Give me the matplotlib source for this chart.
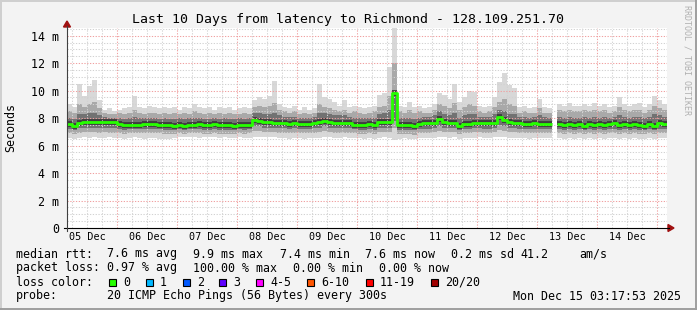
import numpy as np
import matplotlib.pyplot as plt
from matplotlib.patches import Rectangle, Polygon
from matplotlib.lines import Line2D

# ---------------------------------------------------------------------------
# Data (2 hour steps, Dec 05 04:00 -> Dec 15 04:00), values in milliseconds
# ---------------------------------------------------------------------------
nan = np.nan

median_rtt = np.array([
    7.57, 7.42, 7.66, 7.72, 7.72, 7.70, 7.72, 7.75, 7.68, 7.72,
    7.55, 7.46, 7.50, 7.46, 7.50, 7.57, 7.60, 7.55, 7.50, 7.50,
    7.46, 7.42, 7.50, 7.42, 7.50, 7.50, 7.55, 7.50, 7.46, 7.55,
    7.46, 7.50, 7.46, 7.42, 7.50, 7.46, 7.50, 7.85, 7.80, 7.72,
    7.68, 7.66, 7.62, 7.62, 7.60, 7.62, 7.60, 7.57, 7.60, 7.62,
    7.75, 7.80, 7.68, 7.66, 7.66, 7.62, 7.66, 7.50, 7.50, 7.50,
    7.55, 7.50, 7.70, 7.72, 7.70, 9.85, 7.50, 7.50, 7.46, 7.42,
    7.55, 7.62, 7.62, 7.66, 7.95, 7.70, 7.66, 7.66, 7.45, 7.55,
    7.60, 7.65, 7.66, 7.62, 7.62, 7.65, 8.05, 7.85, 7.70, 7.66,
    7.62, 7.60, 7.55, 7.62, 7.58, 7.60, 7.55, nan, 7.55, 7.50,
    7.60, 7.50, 7.55, 7.45, 7.55, 7.50, 7.60, 7.50, 7.55, 7.62,
    7.50, 7.55, 7.50, 7.58, 7.50, 7.45, 7.55, 7.42, 7.62, 7.55])

ping_max = np.array([
    9.0, 8.8, 10.5, 9.6, 10.3, 10.8, 9.3, 8.6, 8.7, 8.5,
    8.6, 8.7, 8.8, 9.6, 8.8, 8.7, 8.9, 8.8, 8.7, 8.8,
    8.7, 8.8, 8.6, 8.8, 8.7, 9.0, 8.8, 8.7, 8.8, 8.6,
    8.8, 8.7, 8.8, 8.6, 8.7, 8.8, 8.7, 9.3, 9.5, 9.4,
    9.6, 10.7, 9.0, 8.8, 8.7, 8.9, 8.6, 8.8, 8.6, 8.7,
    10.5, 9.5, 9.4, 9.2, 8.9, 9.3, 8.8, 8.9, 8.8, 8.7,
    8.8, 8.9, 9.7, 9.8, 11.7, 14.6, 8.9, 8.8, 9.2, 8.8,
    8.9, 8.7, 8.8, 9.0, 9.8, 9.7, 9.4, 10.5, 9.2, 9.5,
    10.0, 9.9, 8.9, 8.8, 8.9, 9.5, 10.6, 11.3, 10.4, 10.2,
    8.8, 8.9, 8.7, 8.8, 9.4, 8.8, 8.7, nan, 9.0, 8.9,
    9.1, 8.9, 8.9, 9.0, 8.9, 9.1, 8.9, 9.0, 8.8, 8.9,
    9.5, 9.0, 8.9, 9.0, 9.1, 8.8, 9.0, 9.6, 9.3, 9.0])

ping_q90 = np.array([
    8.5, 8.4, 9.0, 8.8, 9.0, 9.2, 8.7, 8.4, 8.3, 8.3,
    8.4, 8.3, 8.4, 8.6, 8.4, 8.3, 8.4, 8.4, 8.3, 8.4,
    8.3, 8.4, 8.3, 8.4, 8.3, 8.5, 8.4, 8.3, 8.4, 8.3,
    8.4, 8.3, 8.4, 8.3, 8.3, 8.4, 8.3, 8.8, 8.9, 8.8,
    8.9, 9.1, 8.6, 8.5, 8.4, 8.5, 8.3, 8.4, 8.3, 8.4,
    9.0, 8.8, 8.7, 8.6, 8.5, 8.6, 8.4, 8.5, 8.4, 8.3,
    8.4, 8.5, 8.8, 8.9, 9.6, 12.0, 8.5, 8.4, 8.6, 8.4,
    8.5, 8.4, 8.4, 8.6, 9.0, 8.9, 8.7, 9.1, 8.6, 8.8,
    9.0, 8.9, 8.5, 8.4, 8.5, 8.8, 9.2, 9.4, 9.0, 8.9,
    8.4, 8.5, 8.4, 8.4, 8.7, 8.4, 8.4, nan, 8.6, 8.5,
    8.6, 8.5, 8.5, 8.6, 8.5, 8.6, 8.5, 8.6, 8.4, 8.5,
    8.8, 8.6, 8.5, 8.6, 8.6, 8.4, 8.6, 8.9, 8.7, 8.6])

ping_q75 = np.array([
    8.0, 7.9, 8.3, 8.3, 8.4, 8.4, 8.2, 8.1, 8.0, 8.0,
    8.0, 7.9, 8.0, 8.1, 8.0, 8.0, 8.0, 8.0, 7.9, 8.0,
    7.9, 7.9, 8.0, 7.9, 8.0, 8.0, 8.0, 7.9, 7.9, 8.0,
    7.9, 8.0, 7.9, 7.9, 8.0, 7.9, 8.0, 8.4, 8.4, 8.3,
    8.3, 8.4, 8.2, 8.1, 8.1, 8.1, 8.0, 8.0, 8.0, 8.1,
    8.4, 8.4, 8.3, 8.2, 8.2, 8.2, 8.1, 8.0, 8.0, 8.0,
    8.0, 8.0, 8.3, 8.4, 8.6, 10.0, 8.0, 8.0, 8.0, 7.9,
    8.0, 8.1, 8.1, 8.2, 8.5, 8.3, 8.2, 8.4, 8.0, 8.2,
    8.3, 8.3, 8.1, 8.1, 8.1, 8.3, 8.6, 8.5, 8.3, 8.3,
    8.1, 8.1, 8.0, 8.1, 8.2, 8.1, 8.0, nan, 8.1, 8.0,
    8.1, 8.0, 8.0, 8.1, 8.0, 8.1, 8.0, 8.1, 8.0, 8.1,
    8.2, 8.1, 8.0, 8.1, 8.1, 8.0, 8.1, 8.3, 8.2, 8.1])

ping_q25 = np.array([
    7.2, 7.1, 7.3, 7.3, 7.3, 7.3, 7.3, 7.3, 7.3, 7.3,
    7.2, 7.1, 7.2, 7.2, 7.2, 7.2, 7.2, 7.2, 7.2, 7.1,
    7.1, 7.1, 7.2, 7.1, 7.2, 7.2, 7.2, 7.1, 7.1, 7.2,
    7.1, 7.1, 7.1, 7.1, 7.2, 7.1, 7.2, 7.4, 7.4, 7.3,
    7.3, 7.3, 7.3, 7.3, 7.2, 7.3, 7.2, 7.2, 7.2, 7.3,
    7.3, 7.4, 7.3, 7.3, 7.3, 7.3, 7.3, 7.2, 7.1, 7.1,
    7.2, 7.1, 7.3, 7.3, 7.3, 7.8, 7.1, 7.1, 7.1, 7.1,
    7.2, 7.2, 7.2, 7.3, 7.4, 7.3, 7.3, 7.3, 7.1, 7.2,
    7.2, 7.3, 7.3, 7.2, 7.2, 7.3, 7.5, 7.4, 7.3, 7.3,
    7.2, 7.2, 7.2, 7.2, 7.2, 7.2, 7.2, nan, 7.2, 7.1,
    7.2, 7.1, 7.2, 7.1, 7.2, 7.1, 7.2, 7.1, 7.2, 7.2,
    7.1, 7.2, 7.1, 7.2, 7.1, 7.1, 7.2, 7.1, 7.2, 7.2])

ping_q10 = np.array([
    6.90, 6.85, 6.95, 7.00, 7.00, 7.00, 6.95, 7.00, 6.95, 6.95,
    6.90, 6.85, 6.90, 6.95, 6.90, 6.90, 6.95, 6.90, 6.90, 6.85,
    6.85, 6.85, 6.90, 6.85, 6.90, 6.90, 6.90, 6.85, 6.85, 6.90,
    6.85, 6.85, 6.85, 6.85, 6.90, 6.85, 6.90, 7.05, 7.05, 7.00,
    7.00, 7.00, 6.95, 6.95, 6.90, 6.95, 6.90, 6.90, 6.90, 6.95,
    7.00, 7.05, 7.00, 6.95, 6.95, 6.95, 6.95, 6.90, 6.85, 6.85,
    6.90, 6.85, 7.00, 7.00, 7.00, 7.30, 6.85, 6.85, 6.85, 6.80,
    6.90, 6.90, 6.90, 7.00, 7.05, 7.00, 7.00, 7.00, 6.85, 6.90,
    6.90, 7.00, 7.00, 6.90, 6.90, 7.00, 7.10, 7.05, 7.00, 7.00,
    6.90, 6.90, 6.90, 6.90, 6.90, 6.90, 6.90, nan, 6.90, 6.85,
    6.90, 6.85, 6.90, 6.85, 6.90, 6.85, 6.90, 6.85, 6.90, 6.90,
    6.85, 6.90, 6.85, 6.90, 6.85, 6.85, 6.90, 6.85, 6.90, 6.90])

ping_min = np.array([
    6.55, 6.50, 6.55, 6.60, 6.55, 6.60, 6.55, 6.55, 6.60, 6.55,
    6.55, 6.50, 6.55, 6.60, 6.55, 6.50, 6.55, 6.55, 6.50, 6.50,
    6.50, 6.55, 6.60, 6.65, 6.65, 6.60, 6.55, 6.60, 6.65, 6.60,
    6.55, 6.60, 6.55, 6.55, 6.60, 6.55, 6.55, 6.65, 6.65, 6.60,
    6.60, 6.60, 6.55, 6.55, 6.50, 6.55, 6.55, 6.50, 6.55, 6.55,
    6.55, 6.60, 6.60, 6.55, 6.55, 6.60, 6.55, 6.55, 6.55, 6.50,
    6.55, 6.50, 6.55, 6.60, 6.55, 6.40, 6.50, 6.55, 6.50, 6.50,
    6.55, 6.55, 6.55, 6.55, 6.60, 6.60, 6.55, 6.60, 6.50, 6.55,
    6.55, 6.55, 6.60, 6.55, 6.55, 6.60, 6.60, 6.60, 6.55, 6.55,
    6.55, 6.55, 6.50, 6.55, 6.55, 6.55, 6.55, nan, 6.55, 6.50,
    6.55, 6.50, 6.55, 6.50, 6.55, 6.50, 6.55, 6.50, 6.55, 6.55,
    6.50, 6.55, 6.50, 6.55, 6.50, 6.50, 6.55, 6.50, 6.55, 6.55])

day_labels = ['05 Dec', '06 Dec', '07 Dec', '08 Dec', '09 Dec',
              '10 Dec', '11 Dec', '12 Dec', '13 Dec', '14 Dec']
y_ticks = [0, 2, 4, 6, 8, 10, 12, 14]

title = 'Last 10 Days from latency to Richmond - 128.109.251.70'
rtt_row = [('median rtt:', 16), ('7.6 ms avg', 107), ('9.9 ms max', 193),
           ('7.4 ms min', 280), ('7.6 ms now', 365), ('0.2 ms sd', 451),
           ('41.2', 520), ('am/s', 579)]
loss_row = [('packet loss:', 16), ('0.97 % avg', 107), ('100.00 % max', 193),
            ('0.00 % min', 293), ('0.00 % now', 379)]
loss_names = ['0', '1', '2', '3', '4-5', '6-10', '11-19', '20/20']
loss_colors = ['#26ff00', '#00b8ff', '#0059ff', '#5e00ff',
               '#ff00ff', '#ff5500', '#ff0000', '#a10000']
loss_x = [109, 146, 183, 219, 256, 307, 366, 431]
probe_text = '20 ICMP Echo Pings (56 Bytes) every 300s'
stamp = 'Mon Dec 15 03:17:53 2025'

# ---------------------------------------------------------------------------
W, H = 697, 310
STEP = 2.0                        # hours per consolidated sample
edges = np.arange(len(median_rtt) + 1) * STEP
FS = 8.4

plt.rcParams['font.family'] = 'DejaVu Sans Mono'

fig = plt.figure(figsize=(W / 100, H / 100), dpi=100)
fig.patch.set_facecolor('#f3f3f3')


def fx(x):
    return x / W


def fy(y):
    return 1 - y / H


# plot area: x 67..667 px, y 28..228 px
ax = fig.add_axes([fx(67), fy(228), 600 / W, 200 / H])
ax.set_facecolor('white')
ax.set_xlim(0, 240)
ax.set_ylim(0, 200 / 13.74)
for s in ax.spines.values():
    s.set_visible(False)


def runs(vals):
    ok = np.r_[0, (~np.isnan(vals)).astype(int), 0]
    idx = np.flatnonzero(np.diff(ok))
    return zip(idx[::2], idx[1::2])


def step_fill(lo, hi, color, z):
    for a, b in runs(hi):
        xs = edges[a:b + 1]
        ax.fill_between(xs, np.r_[lo[a:b], lo[b - 1]], np.r_[hi[a:b], hi[b - 1]],
                        step='post', color=color, lw=0, zorder=z)


def step_line(vals, color, lw, z):
    for a, b in runs(vals):
        xs = edges[a:b + 1]
        ax.step(xs, np.r_[vals[a:b], vals[b - 1]], where='post', color=color,
                lw=lw, zorder=z, solid_capstyle='butt')


# smoke, lighter outside, darker towards the median
step_fill(ping_min, ping_max, '#d8d8d8', 1)
step_fill(ping_q10, ping_q90, '#a9a9a9', 1.1)
step_fill(ping_q25, ping_q75, '#727272', 1.2)
ax.hlines(median_rtt, edges[:-1], edges[1:], color='#3e3e3e', lw=4.2, zorder=1.3)

# grid (drawn over the smoke like rrdtool)
for h in np.arange(2, 240, 6):
    major = (h - 20) % 24 == 0
    ax.axvline(h, color='#f0a0a0' if major else '#d2d2d2', lw=0.75,
               dashes=(1.2, 1.5), zorder=3)
for v in np.arange(0.5, 14.6, 0.5):
    major = v % 2 == 0
    ax.axhline(v, color='#f0a0a0' if major else '#d2d2d2', lw=0.75,
               dashes=(1.2, 1.5), zorder=3)

# median line
step_line(median_rtt, '#26ff00', 2.0, 4)

# ticks and labels
ax.set_yticks(y_ticks, ['0' if t == 0 else f'{t} m' for t in y_ticks])
ax.set_xticks(np.arange(len(day_labels)) * 24 + 8, day_labels)
ax.tick_params(axis='y', length=0, pad=5.5, labelsize=FS, colors='#000000')
ax.tick_params(axis='x', length=0, pad=3.2, labelsize=7.3, colors='#000000')

# axis lines and arrows
fig.add_artist(Line2D([fx(64), fx(669)], [fy(228), fy(228)], color='black',
                      lw=0.8, transform=fig.transFigure))
fig.add_artist(Line2D([fx(67), fx(67)], [fy(231), fy(26)], color='#404040',
                      lw=0.8, transform=fig.transFigure))
fig.add_artist(Polygon([[fx(63.5), fy(27)], [fx(70.5), fy(27)], [fx(67), fy(21)]],
                       closed=True, color='#a01010', transform=fig.transFigure))
fig.add_artist(Polygon([[fx(668), fy(224.5)], [fx(668), fy(231.5)], [fx(674), fy(228)]],
                       closed=True, color='#a01010', transform=fig.transFigure))

# titles
fig.text(fx(348), fy(19), title, ha='center', va='center', fontsize=9.5)
fig.text(fx(11), fy(127), 'Seconds', ha='center', va='center', rotation=90,
         fontsize=FS)
fig.text(fx(687), fy(60), 'RRDTOOL / TOBI OETIKER', ha='center', va='center',
         rotation=270, fontsize=6, color='#b0b0b0')

# legend rows
for s, x in rtt_row:
    fig.text(fx(x), fy(254), s, ha='left', va='center', fontsize=FS)
for s, x in loss_row:
    fig.text(fx(x), fy(268), s, ha='left', va='center', fontsize=FS)
fig.text(fx(16), fy(282), 'loss color:', ha='left', va='center', fontsize=FS)
for name, col, x in zip(loss_names, loss_colors, loss_x):
    fig.add_artist(Rectangle((fx(x), fy(285.5)), 7 / W, 7 / H, facecolor=col,
                             edgecolor='black', lw=0.8, transform=fig.transFigure))
    fig.text(fx(x + 14), fy(282), name, ha='left', va='center', fontsize=FS)
fig.text(fx(16), fy(296), 'probe:', ha='left', va='center', fontsize=FS)
fig.text(fx(107), fy(296), probe_text, ha='left', va='center', fontsize=FS)
fig.text(fx(513), fy(296), stamp, ha='left', va='center', fontsize=FS)

# 3d frame around the image
fig.add_artist(Line2D([0, 1], [fy(0.75), fy(0.75)], color='#cfcfcf', lw=1.4,
                      transform=fig.transFigure))
fig.add_artist(Line2D([fx(0.75), fx(0.75)], [0, 1], color='#cfcfcf', lw=1.4,
                      transform=fig.transFigure))
fig.add_artist(Line2D([0, 1], [fy(309), fy(309)], color='#9e9e9e', lw=1.4,
                      transform=fig.transFigure))
fig.add_artist(Line2D([fx(696), fx(696)], [0, 1], color='#9e9e9e', lw=1.4,
                      transform=fig.transFigure))

fig.savefig('out.png', dpi=100, facecolor=fig.get_facecolor())
